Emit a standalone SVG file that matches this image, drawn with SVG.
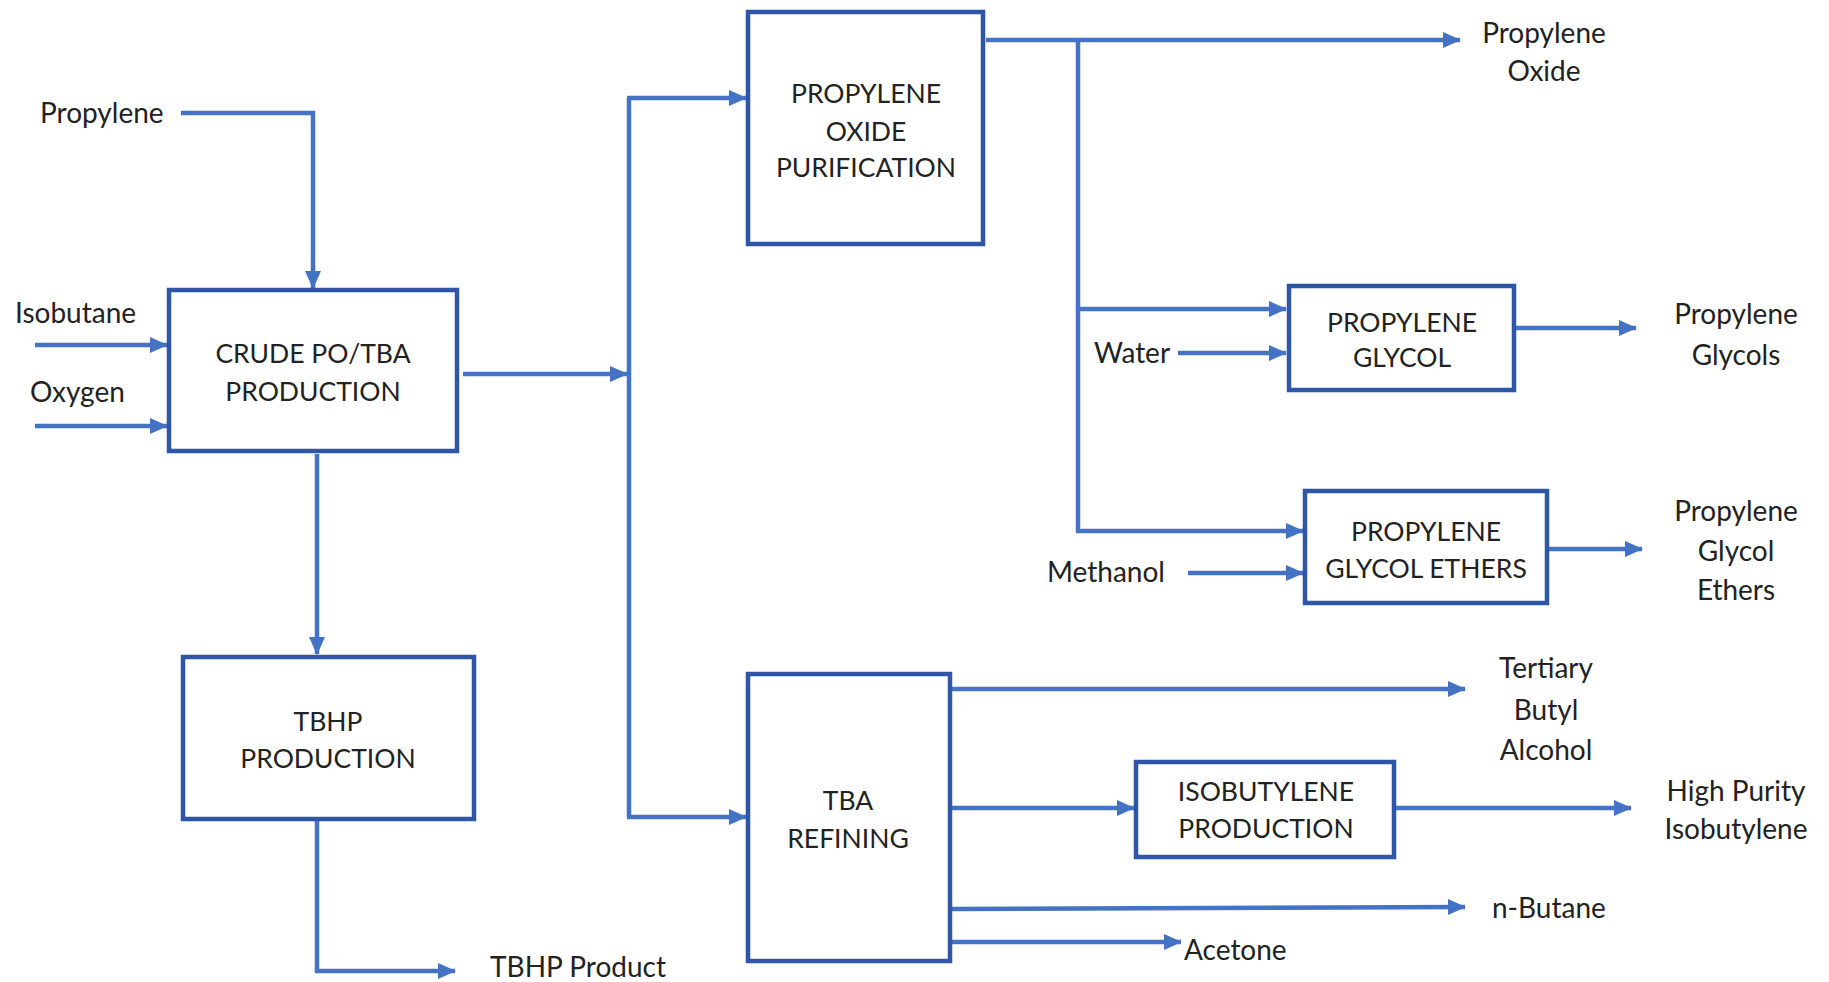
<svg xmlns="http://www.w3.org/2000/svg" width="1829" height="982" viewBox="0 0 1829 982">
<style>
.box{fill:#fff;stroke:#2F56A6;stroke-width:4.5}
.ln{fill:none;stroke:#4472C4;stroke-width:4.5;stroke-linejoin:miter}
.ar{marker-end:url(#ah)}
text{font-family:Lato,"Liberation Sans",sans-serif;font-size:28px;fill:#222}
.c{text-anchor:middle}
.b{font-size:26.5px}
</style>
<defs>
<marker id="ah" markerUnits="userSpaceOnUse" markerWidth="18" markerHeight="18" refX="17" refY="9" orient="auto">
<path d="M0,1 L18,9 L0,17 z" fill="#4472C4"/>
</marker>
</defs>
<rect width="1829" height="982" fill="#fff"/>
<g id="connectors">
<polyline class="ln ar" points="181,113 313,113 313,288"/>
<line class="ln ar" x1="35" y1="345" x2="167" y2="345"/>
<line class="ln ar" x1="35" y1="426" x2="167" y2="426"/>
<line class="ln ar" x1="463" y1="374" x2="627" y2="374"/>
<line class="ln" x1="629" y1="98" x2="629" y2="817"/>
<line class="ln ar" x1="627" y1="98" x2="746" y2="98"/>
<line class="ln ar" x1="627" y1="817" x2="746" y2="817"/>
<line class="ln ar" x1="317" y1="454" x2="317" y2="654"/>
<polyline class="ln ar" points="317,820 317,971 455,971"/>
<line class="ln ar" x1="986" y1="40" x2="1460" y2="40"/>
<line class="ln" x1="1078" y1="40" x2="1078" y2="533"/>
<line class="ln ar" x1="1076" y1="309" x2="1286" y2="309"/>
<line class="ln ar" x1="1178" y1="353" x2="1286" y2="353"/>
<line class="ln ar" x1="1076" y1="531" x2="1303" y2="531"/>
<line class="ln ar" x1="1188" y1="573" x2="1303" y2="573"/>
<line class="ln ar" x1="1516" y1="328" x2="1636" y2="328"/>
<line class="ln ar" x1="1549" y1="549" x2="1642" y2="549"/>
<line class="ln ar" x1="952" y1="689" x2="1465" y2="689"/>
<line class="ln ar" x1="952" y1="808" x2="1134" y2="808"/>
<line class="ln ar" x1="1396" y1="808" x2="1631" y2="808"/>
<line class="ln ar" x1="952" y1="909" x2="1465" y2="907"/>
<line class="ln ar" x1="952" y1="942" x2="1181" y2="942"/>
</g>
<g id="crude">
<rect class="box" x="169" y="290" width="288" height="161"/>
<text class="c b" x="313" y="363">CRUDE PO/TBA</text>
<text class="c b" x="313" y="401">PRODUCTION</text>
</g>
<g id="tbhp">
<rect class="box" x="183" y="657" width="291" height="162"/>
<text class="c b" x="328" y="731">TBHP</text>
<text class="c b" x="328" y="768">PRODUCTION</text>
</g>
<g id="po">
<rect class="box" x="748" y="12" width="235" height="232"/>
<text class="c b" x="866" y="103">PROPYLENE</text>
<text class="c b" x="866" y="141">OXIDE</text>
<text class="c b" x="866" y="177">PURIFICATION</text>
</g>
<g id="tba">
<rect class="box" x="748" y="674" width="202" height="287"/>
<text class="c b" x="848" y="810">TBA</text>
<text class="c b" x="848" y="848">REFINING</text>
</g>
<g id="pg">
<rect class="box" x="1289" y="286" width="225" height="104"/>
<text class="c b" x="1402" y="332">PROPYLENE</text>
<text class="c b" x="1402" y="367">GLYCOL</text>
</g>
<g id="pge">
<rect class="box" x="1305" y="491" width="242" height="112"/>
<text class="c b" x="1426" y="541">PROPYLENE</text>
<text class="c b" x="1426" y="578">GLYCOL ETHERS</text>
</g>
<g id="ib">
<rect class="box" x="1136" y="762" width="258" height="95"/>
<text class="c b" x="1266" y="801">ISOBUTYLENE</text>
<text class="c b" x="1266" y="838">PRODUCTION</text>
</g>
<g id="labels">
<text x="40" y="123">Propylene</text>
<text x="15" y="323">Isobutane</text>
<text x="30" y="402">Oxygen</text>
<text x="490" y="977">TBHP Product</text>
<text class="c" x="1544" y="43">Propylene</text>
<text class="c" x="1544" y="81">Oxide</text>
<text x="1094" y="363">Water</text>
<text x="1047" y="582">Methanol</text>
<text class="c" x="1736" y="324">Propylene</text>
<text class="c" x="1736" y="365">Glycols</text>
<text class="c" x="1736" y="521">Propylene</text>
<text class="c" x="1736" y="561">Glycol</text>
<text class="c" x="1736" y="600">Ethers</text>
<text class="c" x="1546" y="678">Tertiary</text>
<text class="c" x="1546" y="720">Butyl</text>
<text class="c" x="1546" y="760">Alcohol</text>
<text class="c" x="1736" y="801">High Purity</text>
<text class="c" x="1736" y="839">Isobutylene</text>
<text x="1492" y="918">n-Butane</text>
<text x="1184" y="960">Acetone</text>
</g>
</svg>
